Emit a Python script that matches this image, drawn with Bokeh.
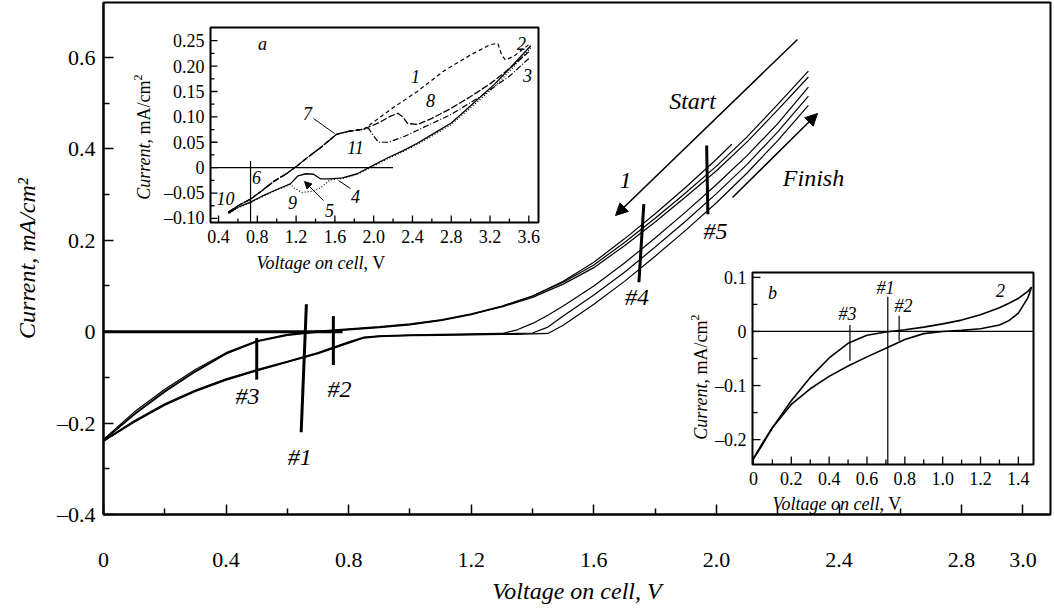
import math
from bokeh.plotting import figure
from bokeh.models import (Range1d, FixedTicker, CustomJSTickFormatter, Label, Arrow,
                          NormalHead, CoordinateMapping)
from bokeh.core.properties import value
from bokeh.embed import file_html
from bokeh.resources import INLINE

SERIF = "'Liberation Serif', 'Times New Roman', Times, serif"

# ---------------- main axes: ticks and labels ----------------
main_x_ticks = [0.0, 0.4, 0.8, 1.2, 1.6, 2.0, 2.4, 2.8, 3.0]
main_x_labels = ["0", "0.4", "0.8", "1.2", "1.6", "2.0", "2.4", "2.8", "3.0"]
main_x_minor = [0.2, 0.6, 1.0, 1.4, 1.8, 2.2, 2.6]
main_y_ticks = [-0.4, -0.2, 0.0, 0.2, 0.4, 0.6]
main_y_labels = ["\u20130.4", "\u20130.2", "0", "0.2", "0.4", "0.6"]
main_y_minor = [-0.3, -0.1, 0.1, 0.3, 0.5]
main_x_title = "Voltage on cell, V"
main_y_title = "Current, mA/cm\u00b2"

# ---------------- main curves (several cycles) ----------------
upper_x = [0.0, 0.1, 0.2, 0.3, 0.4, 0.5, 0.6, 0.7, 0.8, 0.9, 1.0, 1.1, 1.2, 1.3, 1.4, 1.5,
           1.6, 1.7, 1.8, 1.9, 2.0, 2.1, 2.2, 2.3]
upper_1 = [-0.238, -0.180, -0.130, -0.086, -0.048, -0.021, -0.007, 0.000, 0.005, 0.010, 0.016,
           0.025, 0.038, 0.054, 0.075, 0.104, 0.140, 0.188, 0.240, 0.295, 0.352, 0.415, 0.485, 0.557]
upper_2 = [-0.236, -0.176, -0.126, -0.083, -0.046, -0.020, -0.006, 0.001, 0.006, 0.011, 0.017,
           0.026, 0.039, 0.056, 0.078, 0.108, 0.146, 0.195, 0.248, 0.304, 0.362, 0.426, 0.497, 0.570]
upper3_x = [0.0, 0.1, 0.2, 0.3, 0.4, 0.5, 0.6, 0.7, 0.8, 0.9, 1.0, 1.1, 1.2, 1.3, 1.4, 1.5,
            1.6, 1.7, 1.8, 1.9, 2.0, 2.05]
upper_3 = [-0.239, -0.182, -0.132, -0.088, -0.049, -0.022, -0.008, -0.001, 0.004, 0.009, 0.015,
           0.024, 0.037, 0.055, 0.078, 0.110, 0.152, 0.203, 0.258, 0.316, 0.377, 0.410]

lower_x = [0.0, 0.1, 0.2, 0.3, 0.4, 0.5, 0.6, 0.7, 0.8, 0.85, 0.9, 1.0, 1.1, 1.2, 1.3, 1.35,
           1.4, 1.45, 1.5, 1.6, 1.7, 1.8, 1.9, 2.0, 2.1, 2.2, 2.3]
lower_1 = [-0.238, -0.195, -0.158, -0.128, -0.103, -0.083, -0.065, -0.046, -0.022, -0.012, -0.009,
           -0.007, -0.006, -0.005, -0.004, 0.004, 0.018, 0.036, 0.056, 0.100, 0.150, 0.205, 0.262,
           0.322, 0.385, 0.455, 0.535]
lower_2 = [-0.240, -0.197, -0.160, -0.130, -0.105, -0.085, -0.066, -0.047, -0.024, -0.013, -0.010,
           -0.008, -0.007, -0.006, -0.005, -0.004, -0.003, 0.010, 0.034, 0.080, 0.130, 0.185, 0.242,
           0.302, 0.366, 0.437, 0.515]
lower_3 = [-0.240, -0.198, -0.161, -0.131, -0.106, -0.086, -0.067, -0.048, -0.025, -0.014, -0.011,
           -0.009, -0.008, -0.007, -0.006, -0.006, -0.005, -0.004, 0.014, 0.060, 0.110, 0.165, 0.222,
           0.282, 0.347, 0.418, 0.495]

zero_x = [0.0, 0.78]
zero_y = [0.0, 0.0]

# sweep markers #1..#5
marker_labels = ["#1", "#2", "#3", "#4", "#5"]
marker_x0 = [0.662, 0.750, 0.500, 1.763, 1.968]
marker_y0 = [0.060, 0.034, -0.014, 0.279, 0.407]
marker_x1 = [0.645, 0.750, 0.500, 1.747, 1.972]
marker_y1 = [-0.220, -0.073, -0.105, 0.108, 0.257]
marker_lx = [0.640, 0.770, 0.470, 1.741, 1.997]
marker_ly = [-0.275, -0.125, -0.140, 0.075, 0.221]

# ---------------- inset a ----------------
insa_x_ticks = [0.4, 0.8, 1.2, 1.6, 2.0, 2.4, 2.8, 3.2, 3.6]
insa_x_labels = ["0.4", "0.8", "1.2", "1.6", "2.0", "2.4", "2.8", "3.2", "3.6"]
insa_x_minor = [0.6, 1.0, 1.4, 1.8, 2.2, 2.6, 3.0, 3.4]
insa_y_ticks = [-0.10, -0.05, 0.0, 0.05, 0.10, 0.15, 0.20, 0.25]
insa_y_labels = ["\u20130.10", "\u20130.05", "0", "0.05", "0.10", "0.15", "0.20", "0.25"]
insa_y_minor = [-0.075, -0.025, 0.025, 0.075, 0.125, 0.175, 0.225]

up_branch_x = [0.5, 0.6, 0.73, 0.85, 0.97, 1.1, 1.2, 1.33, 1.45, 1.55, 1.62, 1.75, 1.9]
up_branch_y = [-0.088, -0.075, -0.062, -0.045, -0.027, -0.012, 0.002, 0.022, 0.039, 0.055, 0.066,
               0.072, 0.076]
c1_x = up_branch_x + [2.0, 2.2, 2.45, 2.72, 3.0, 3.2, 3.28, 3.32, 3.36, 3.45, 3.55, 3.62]
c1_y = up_branch_y + [0.090, 0.118, 0.150, 0.190, 0.222, 0.242, 0.245, 0.222, 0.212, 0.220, 0.235, 0.245]
c7_x = up_branch_x + [2.05, 2.17, 2.25, 2.3, 2.35, 2.45, 2.6, 2.8, 3.0, 3.2, 3.4, 3.6]
c7_y = up_branch_y + [0.088, 0.101, 0.107, 0.100, 0.087, 0.085, 0.097, 0.117, 0.140, 0.165, 0.195, 0.228]
c11_x = up_branch_x + [1.95, 2.0, 2.05, 2.15, 2.3, 2.5, 2.8, 3.1, 3.4, 3.6]
c11_y = up_branch_y + [0.077, 0.062, 0.050, 0.050, 0.060, 0.078, 0.105, 0.140, 0.180, 0.215]
r1_x = [3.62, 3.45, 3.25, 3.0, 2.8, 2.6, 2.45, 2.3, 2.14, 1.97, 1.83, 1.68, 1.55, 1.45, 1.38,
        1.3, 1.22, 1.14, 1.0, 0.85, 0.73, 0.6, 0.5]
r1_y = [0.240, 0.205, 0.165, 0.122, 0.088, 0.065, 0.048, 0.033, 0.019, 0.002, -0.012, -0.020,
        -0.022, -0.022, -0.013, -0.012, -0.016, -0.032, -0.043, -0.056, -0.068, -0.078, -0.090]
r2_x = [3.62, 3.45, 3.25, 3.0, 2.8, 2.6, 2.45, 2.3, 2.14, 1.97, 1.83, 1.68, 1.55, 1.45, 1.38,
        1.26, 1.18, 1.14, 1.0, 0.85, 0.73, 0.6, 0.5]
r2_y = [0.236, 0.200, 0.160, 0.118, 0.085, 0.062, 0.046, 0.031, 0.017, 0.000, -0.013, -0.021,
        -0.024, -0.040, -0.046, -0.049, -0.040, -0.033, -0.044, -0.057, -0.069, -0.079, -0.091]

# ---------------- inset b ----------------
insb_x_ticks = [0.0, 0.2, 0.4, 0.6, 0.8, 1.0, 1.2, 1.4]
insb_x_labels = ["0", "0.2", "0.4", "0.6", "0.8", "1.0", "1.2", "1.4"]
insb_x_minor = [0.1, 0.3, 0.5, 0.7, 0.9, 1.1, 1.3]
insb_y_ticks = [-0.2, -0.1, 0.0, 0.1]
insb_y_labels = ["\u20130.2", "\u20130.1", "0", "0.1"]
insb_y_minor = [-0.15, -0.05, 0.05]

insb_x = [0.0, 0.05, 0.1, 0.2, 0.3, 0.4, 0.5, 0.6, 0.7, 0.8, 0.9, 1.0, 1.1, 1.2, 1.3, 1.35,
          1.4, 1.45, 1.47]
insb_upper = [-0.235, -0.205, -0.178, -0.128, -0.085, -0.049, -0.022, -0.007, -0.001, 0.003,
              0.008, 0.014, 0.021, 0.031, 0.044, 0.052, 0.061, 0.074, 0.082]
insb_lower = [-0.235, -0.208, -0.178, -0.135, -0.106, -0.083, -0.064, -0.047, -0.031, -0.015,
              -0.004, 0.000, 0.002, 0.005, 0.012, 0.020, 0.034, 0.062, 0.082]

# ======================================================================
W, H = 1052, 614
BL, BR, BT, BB = 103, 2, 2, 100
XR = (0.0, 3.09)
YR = (-0.4, 0.72)
MX = (W - BL - BR) / (XR[1] - XR[0])   # px per V
MY = (H - BT - BB) / (YR[1] - YR[0])   # px per mA/cm2

p = figure(width=W, height=H, x_range=Range1d(*XR), y_range=Range1d(*YR),
           output_backend="svg", toolbar_location=None,
           min_border_left=BL, min_border_right=BR, min_border_top=BT, min_border_bottom=BB)
p.grid.visible = False
p.outline_line_color = "black"
p.outline_line_width = 2
p.outline_line_alpha = 1.0
p.background_fill_color = "white"
p.border_fill_color = "white"

fmt_code = """
let best = 0; let d = 1e9;
for (let i = 0; i < tk.length; i++) {
  const e = Math.abs(tk[i] - tick);
  if (e < d) { d = e; best = i; }
}
return lb[best];
"""
for ax in (p.xaxis[0], p.yaxis[0]):
    ax.axis_line_width = 2
    ax.axis_line_color = "black"
    ax.major_tick_in = 10
    ax.major_tick_out = 0
    ax.minor_tick_in = 6
    ax.minor_tick_out = 0
    ax.major_tick_line_width = 1.5
    ax.minor_tick_line_width = 1.5
    ax.major_tick_line_color = "black"
    ax.minor_tick_line_color = "black"
    ax.major_label_text_font = SERIF
    ax.major_label_text_font_size = "22px"
    ax.major_label_text_color = "black"
    ax.axis_label_text_font = SERIF
    ax.axis_label_text_font_size = "24px"
    ax.axis_label_text_font_style = "italic"
    ax.axis_label_text_color = "black"
p.xaxis.ticker = FixedTicker(ticks=main_x_ticks, minor_ticks=main_x_minor)
p.xaxis.formatter = CustomJSTickFormatter(args=dict(tk=main_x_ticks, lb=main_x_labels),
                                          code=fmt_code)
p.yaxis.ticker = FixedTicker(ticks=main_y_ticks, minor_ticks=main_y_minor)
p.yaxis.formatter = CustomJSTickFormatter(args=dict(tk=main_y_ticks, lb=main_y_labels),
                                          code=fmt_code)
p.xaxis.major_label_standoff = 38
p.yaxis.major_label_standoff = 8
p.xaxis.axis_label = main_x_title
p.yaxis.axis_label = main_y_title
p.xaxis.axis_label_standoff = 8
p.yaxis.axis_label_standoff = 14


def px2x(px):
    return XR[0] + (px - BL) / MX


def py2y(py):
    return YR[1] - (py - BT) / MY


def lab(x, y, text, size="24px", style="normal", align="center", baseline="middle", angle=0.0):
    p.add_layout(Label(x=x, y=y, text=text, text_font=SERIF, text_font_size=size,
                       text_font_style=style, text_align=align, text_baseline=baseline,
                       angle=angle, text_color="black"))


# main curves
for xs, ys in [(lower_x, lower_1), (lower_x, lower_2), (lower_x, lower_3),
               (upper_x, upper_1), (upper_x, upper_2), (upper3_x, upper_3)]:
    p.line(xs, ys, line_color="black", line_width=1.2)
p.line(zero_x, zero_y, line_color="black", line_width=3)

# markers
p.segment(x0=marker_x0, y0=marker_y0, x1=marker_x1, y1=marker_y1, line_color="black", line_width=3)
p.text(x=marker_lx, y=marker_ly, text=marker_labels, text_font=value(SERIF),
       text_font_size=value("24px"), text_font_style="italic", text_align="center",
       text_baseline="middle", text_color="black")

# Start / Finish arrows
p.add_layout(Arrow(end=NormalHead(size=12, fill_color="black", line_color="black"),
                   x_start=px2x(797), y_start=py2y(39), x_end=px2x(615), y_end=py2y(215),
                   line_width=1.5, line_color="black"))
p.add_layout(Arrow(end=NormalHead(size=12, fill_color="black", line_color="black"),
                   x_start=px2x(732), y_start=py2y(197), x_end=px2x(817), y_end=py2y(113),
                   line_width=1.5, line_color="black"))
lab(px2x(692), py2y(100), "Start", style="italic")
lab(px2x(813), py2y(177), "Finish", style="italic")
lab(px2x(625), py2y(180), "1", style="italic")


# ---------------- inset helper ----------------
def make_inset(xs, ys, frame_px):
    l, t, r, b = frame_px
    xt = (px2x(l), px2x(r))
    yt = (py2y(b), py2y(t))
    xsr, ysr = Range1d(*xs), Range1d(*ys)
    xtr, ytr = Range1d(*xt), Range1d(*yt)
    sub = p.subplot(x_source=xsr, y_source=ysr, x_target=xtr, y_target=ytr)
    cm = CoordinateMapping(x_source=xsr, y_source=ysr, x_target=xtr, y_target=ytr)
    kx = (r - l) / (xs[1] - xs[0])
    ky = (b - t) / (ys[1] - ys[0])
    sub.quad(left=[xs[0]], right=[xs[1]], bottom=[ys[0]], top=[ys[1]], fill_color="white",
             line_color="black", line_width=2)
    return sub, cm, kx, ky


def inset_axes(sub, xs, ys, kx, ky, xt, xl, xm, yt, yl, ym, maj=7, mnr=4, fs="18px"):
    sub.segment(x0=xt, y0=[ys[0]] * len(xt), x1=xt, y1=[ys[0] + maj / ky] * len(xt),
                line_color="black", line_width=1.3)
    sub.segment(x0=xm, y0=[ys[0]] * len(xm), x1=xm, y1=[ys[0] + mnr / ky] * len(xm),
                line_color="black", line_width=1.3)
    sub.segment(x0=[xs[0]] * len(yt), y0=yt, x1=[xs[0] + maj / kx] * len(yt), y1=yt,
                line_color="black", line_width=1.3)
    sub.segment(x0=[xs[0]] * len(ym), y0=ym, x1=[xs[0] + mnr / kx] * len(ym), y1=ym,
                line_color="black", line_width=1.3)
    sub.text(x=xt, y=[ys[0] - 7 / ky] * len(xt), text=xl, text_font=value(SERIF),
             text_font_size=value(fs), text_align="center", text_baseline="top",
             text_color="black")
    sub.text(x=[xs[0] - 6 / kx] * len(yt), y=yt, text=yl, text_font=value(SERIF),
             text_font_size=value(fs), text_align="right", text_baseline="middle",
             text_color="black")


def stext(sub, x, y, text, size="18px", style="normal", align="center", baseline="middle",
          angle=0.0):
    sub.text(x=[x], y=[y], text=[text], text_font=value(SERIF), text_font_size=value(size),
             text_font_style=style, text_align=align, text_baseline=baseline, angle=angle,
             text_color="black")


# ---------------- inset a ----------------
XSA, YSA = (0.317, 3.70), (-0.108, 0.276)
FA = (210, 27, 538, 222)
sa, cma, kxa, kya = make_inset(XSA, YSA, FA)
inset_axes(sa, XSA, YSA, kxa, kya, insa_x_ticks, insa_x_labels, insa_x_minor,
           insa_y_ticks, insa_y_labels, insa_y_minor)


def ax_(px):
    return XSA[0] + (px - FA[0]) / kxa


def ay_(py):
    return YSA[1] - (py - FA[1]) / kya


sa.line([XSA[0], 2.2], [0, 0], line_color="black", line_width=1.2)
sa.line([0.73, 0.73], [0.013, YSA[0]], line_color="black", line_width=1.2)
sa.line(r2_x, r2_y, line_color="black", line_width=1.2, line_dash="1 2")
sa.line(r1_x, r1_y, line_color="black", line_width=1.3)
sa.line(c11_x, c11_y, line_color="black", line_width=1.2, line_dash="6 2 1 2")
sa.line(c7_x, c7_y, line_color="black", line_width=1.3, line_dash="7 2")
sa.line(c1_x, c1_y, line_color="black", line_width=1.2, line_dash="4 3")

for t, x, y in [("a", 262, 43), ("7", 307, 113), ("11", 355, 147), ("1", 415, 76),
                ("8", 430, 100), ("2", 521, 43), ("3", 527, 75), ("6", 256, 177),
                ("10", 225, 198), ("9", 292, 202), ("5", 329, 210), ("4", 355, 196)]:
    stext(sa, ax_(x), ay_(y), t, style="italic")
sa.segment(x0=[ax_(313), ax_(350)], y0=[ay_(118), ay_(188)], x1=[ax_(334), ax_(338)],
           y1=[ay_(133), ay_(180)], line_color="black", line_width=1)
p.add_layout(Arrow(end=NormalHead(size=7, fill_color="black", line_color="black"),
                   x_start=ax_(323), y_start=ay_(200), x_end=ax_(304), y_end=ay_(181),
                   line_width=1, line_color="black", coordinates=cma))
stext(sa, ax_(363), ay_(262), "Voltage on cell", style="italic", align="right")
stext(sa, ax_(363), ay_(262), ", V", align="left")
stext(sa, ax_(143), ay_(143), "Current", style="italic", align="right", angle=math.pi / 2)
stext(sa, ax_(143), ay_(143), ", mA/cm", align="left", angle=math.pi / 2)
stext(sa, ax_(137), ay_(80), "2", size="12px", align="left", angle=math.pi / 2)

# ---------------- inset b ----------------
XSB, YSB = (-0.005, 1.48), (-0.246, 0.109)
FB = (752, 272, 1033, 464)
sb, cmb, kxb, kyb = make_inset(XSB, YSB, FB)
inset_axes(sb, XSB, YSB, kxb, kyb, insb_x_ticks, insb_x_labels, insb_x_minor,
           insb_y_ticks, insb_y_labels, insb_y_minor, maj=8, mnr=5)


def bx_(px):
    return XSB[0] + (px - FB[0]) / kxb


def by_(py):
    return YSB[1] - (py - FB[1]) / kyb


sb.line([XSB[0], XSB[1]], [0, 0], line_color="black", line_width=1.2)
sb.line([0.71, 0.71], [0.064, YSB[0]], line_color="black", line_width=1.2)
sb.segment(x0=[0.77, 0.51], y0=[0.029, 0.012], x1=[0.77, 0.51], y1=[-0.017, -0.054],
           line_color="black", line_width=1.2)
sb.line(insb_x, insb_lower, line_color="black", line_width=1.6)
sb.line(insb_x, insb_upper, line_color="black", line_width=1.6)
for t, x, y in [("b", 772, 292), ("#1", 885, 287), ("#2", 903, 305), ("#3", 847, 313),
                ("2", 1000, 290)]:
    stext(sb, bx_(x), by_(y), t, style="italic")
stext(sb, bx_(879), by_(503), "Voltage on cell", style="italic", align="right")
stext(sb, bx_(879), by_(503), ", V", align="left")
stext(sb, bx_(700), by_(383), "Current", style="italic", align="right", angle=math.pi / 2)
stext(sb, bx_(700), by_(383), ", mA/cm", align="left", angle=math.pi / 2)
stext(sb, bx_(694), by_(320), "2", size="12px", align="left", angle=math.pi / 2)

open("out.html", "w").write(file_html(p, INLINE))
